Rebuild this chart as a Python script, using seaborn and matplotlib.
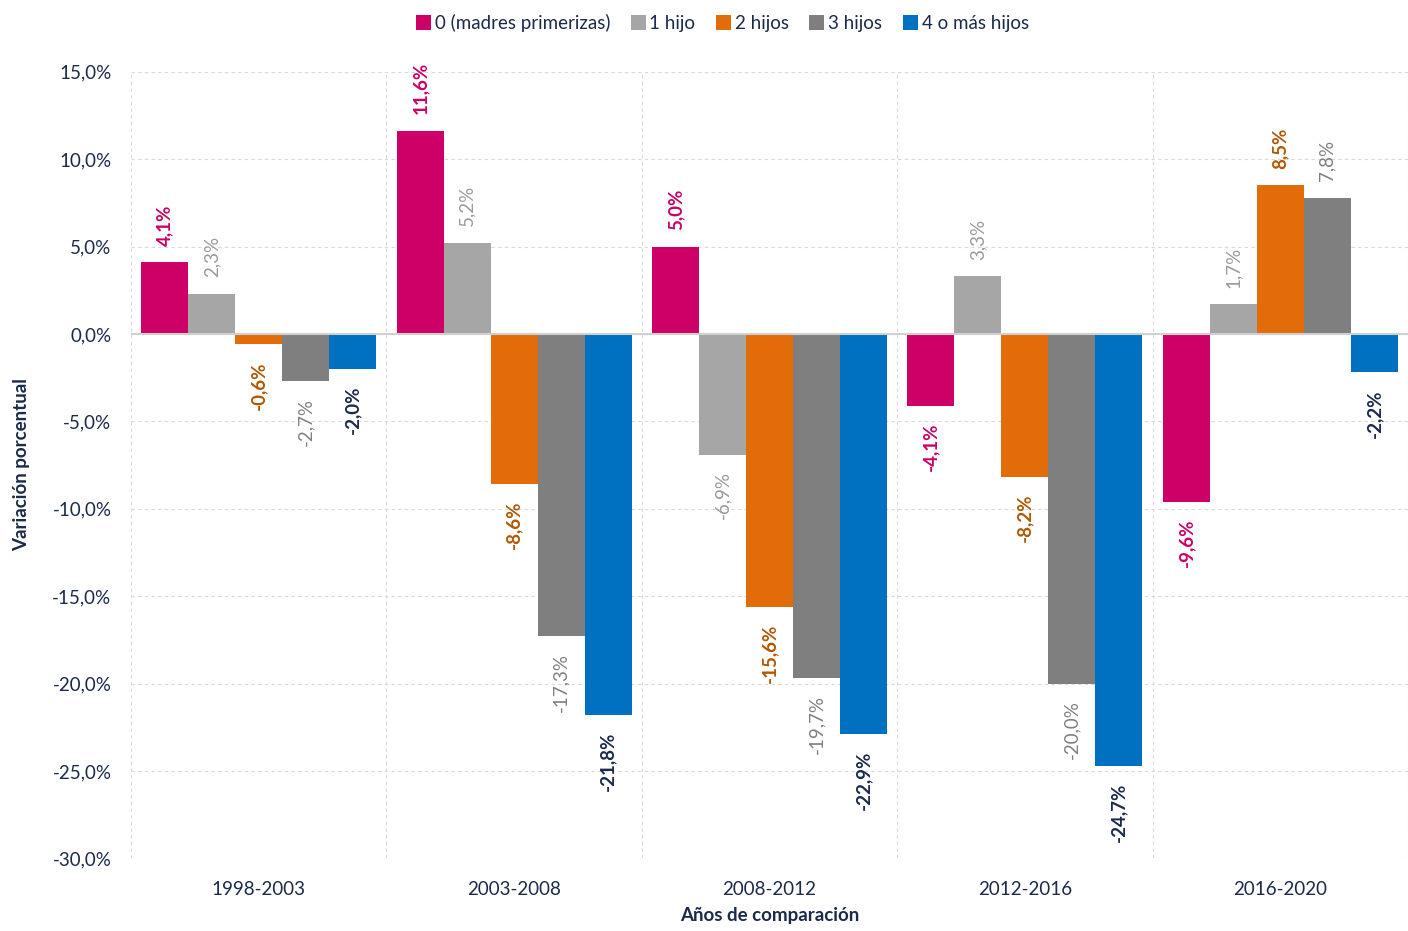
import numpy as np
import pandas as pd
import matplotlib
matplotlib.use("Agg")
import matplotlib.pyplot as plt
import seaborn as sns

# datos
periodos = ["1998-2003", "2003-2008", "2008-2012", "2012-2016", "2016-2020"]
series = ["0 (madres primerizas)", "1 hijo", "2 hijos", "3 hijos", "4 o más hijos"]
hijos_0 = [4.1, 11.6, 5.0, -4.1, -9.6]
hijos_1 = [2.3, 5.2, -6.9, 3.3, 1.7]
hijos_2 = [-0.6, -8.6, -15.6, -8.2, 8.5]
hijos_3 = [-2.7, -17.3, -19.7, -20.0, 7.8]
hijos_4 = [-2.0, -21.8, -22.9, -24.7, -2.2]

colores = ["#CC0066", "#A6A6A6", "#E36C0A", "#7F7F7F", "#0070C0"]
col_etiq = ["#CC0066", "#9A9A9A", "#B35600", "#808080", "#1B2A4A"]
peso_etiq = ["bold", "normal", "bold", "normal", "bold"]

df = pd.DataFrame({
    "periodo": periodos * 5,
    "serie": np.repeat(series, len(periodos)),
    "valor": hijos_0 + hijos_1 + hijos_2 + hijos_3 + hijos_4,
})

sns.set_style("white")
plt.rcParams["font.family"] = ["Lato", "DejaVu Sans"]
texto = "#1B2A4A"
fs = 13.5

fig = plt.figure(figsize=(14.08, 9.31), dpi=100)
ax = fig.add_axes([0.093, 0.078, 0.907, 0.845])

sns.barplot(data=df, x="periodo", y="valor", hue="serie", hue_order=series,
            palette=colores, width=0.92, saturation=1, linewidth=0, ax=ax, legend=True)

for cont, c, w in zip(ax.containers, col_etiq, peso_etiq):
    etiquetas = [f"{b.get_height():.1f}%".replace(".", ",") for b in cont]
    ax.bar_label(cont, labels=etiquetas, rotation=90, padding=12,
                 color=c, fontsize=fs, fontweight=w)

ax.set_ylim(-30, 15)
ax.set_xlim(-0.5, 4.5)
yt = np.arange(-30, 16, 5)
ax.set_yticks(yt)
ax.set_yticklabels([f"{v:.1f}%".replace(".", ",") for v in yt], color=texto, fontsize=fs)
ax.tick_params(axis="x", colors=texto, labelsize=fs, length=0, pad=16)
ax.tick_params(axis="y", length=0, pad=14)

ax.grid(axis="y", linestyle=(0, (3, 3)), color="#D9D9D9", linewidth=0.8)
for xb in np.arange(-0.5, 4.6, 1):
    ax.axvline(xb, linestyle=(0, (3, 3)), color="#D9D9D9", linewidth=0.8, zorder=0)
ax.set_axisbelow(True)
ax.axhline(0, color="#D0D0D0", linewidth=1.5, zorder=3)
for s in ax.spines.values():
    s.set_visible(False)

ax.set_xlabel("Años de comparación", fontsize=fs, fontweight="bold", color=texto, labelpad=7)
ax.set_ylabel("Variación porcentual", fontsize=fs, fontweight="bold", color=texto, labelpad=16)

ax.legend(loc="upper center", bbox_to_anchor=(0.463, 1.095), ncol=5, frameon=False,
          fontsize=fs, handlelength=0.8, handleheight=0.8, handletextpad=0.2,
          columnspacing=1.1, labelcolor=texto)

fig.savefig("out.png", dpi=100)
